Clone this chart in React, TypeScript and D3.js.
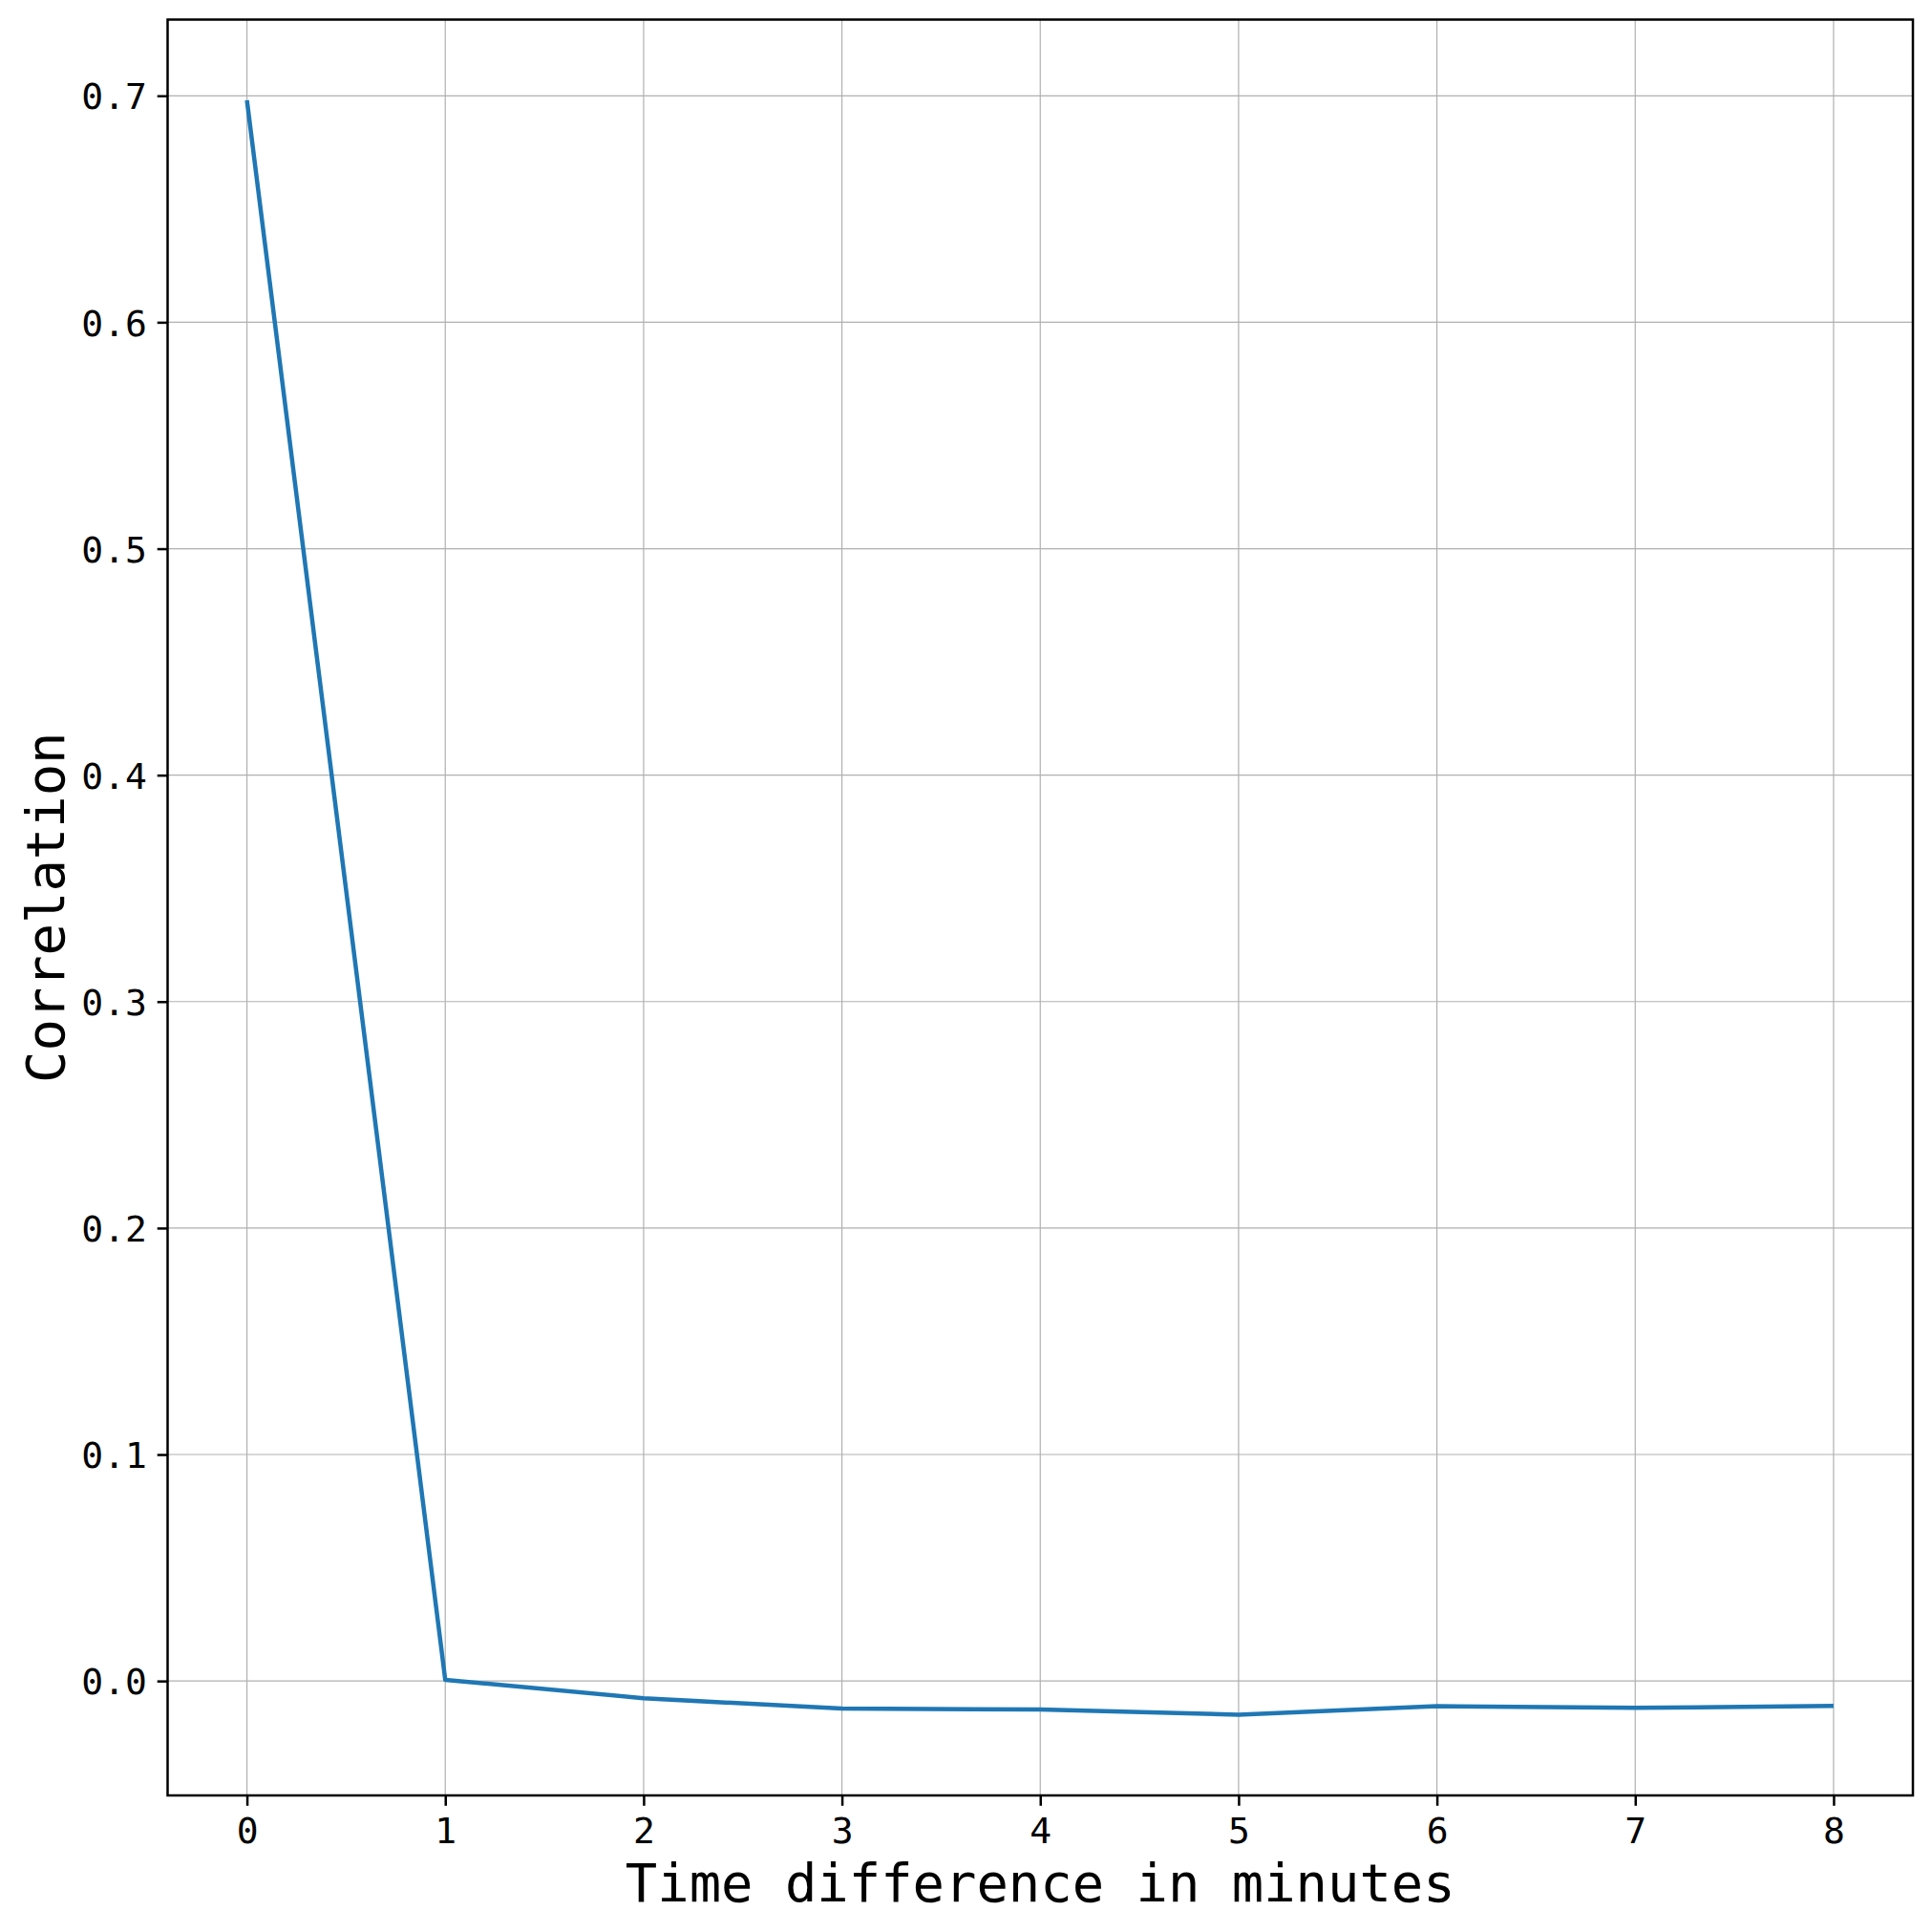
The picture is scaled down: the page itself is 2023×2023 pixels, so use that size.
import React, { useEffect, useRef } from 'react';
import * as d3 from 'd3';

// lag in minutes and the correlation at that lag
const lags = [0, 1, 2, 3, 4, 5, 6, 7, 8];
const correlations = [0.698, 0.0005, -0.0076, -0.0122, -0.0126, -0.0149, -0.0111, -0.0119, -0.011];
const xTicks = [0, 1, 2, 3, 4, 5, 6, 7, 8];
const yTicks = [0.0, 0.1, 0.2, 0.3, 0.4, 0.5, 0.6, 0.7];

const W = 2023;
const H = 2023;
const FONT = "'DejaVu Sans Mono', monospace";

const App = () => {
  const chartRef = useRef(null);

  useEffect(() => {
    document.body.style.margin = '0';

    const svg = d3.select(chartRef.current)
      .attr('width', W)
      .attr('height', H)
      .style('display', 'block')
      .style('background-color', '#ffffff');

    svg.selectAll('*').remove();

    const margin = { top: 20.5, right: 20, bottom: 143, left: 175.5 };
    const left = margin.left;
    const right = W - margin.right;
    const top = margin.top;
    const bottom = H - margin.bottom;

    // matplotlib style 5% padding around the data
    const xMin = d3.min(lags), xMax = d3.max(lags);
    const xPad = (xMax - xMin) * 0.05;
    const yMin = d3.min(correlations), yMax = d3.max(correlations);
    const yPad = (yMax - yMin) * 0.05;

    const x = d3.scaleLinear()
      .domain([xMin - xPad, xMax + xPad])
      .range([left, right]);

    const y = d3.scaleLinear()
      .domain([yMin - yPad, yMax + yPad])
      .range([bottom, top]);

    const tickLen = 10.8;
    const tickPad = 10.8;

    // grid
    const grid = svg.append('g');
    grid.selectAll('line.gx')
      .data(xTicks)
      .enter().append('line')
      .attr('x1', d => x(d)).attr('x2', d => x(d))
      .attr('y1', top).attr('y2', bottom)
      .attr('stroke', '#b0b0b0')
      .attr('stroke-width', 1.2);
    grid.selectAll('line.gy')
      .data(yTicks)
      .enter().append('line')
      .attr('x1', left).attr('x2', right)
      .attr('y1', d => y(d)).attr('y2', d => y(d))
      .attr('stroke', '#b0b0b0')
      .attr('stroke-width', 1.2);

    // data line
    const line = d3.line()
      .x((d, i) => x(lags[i]))
      .y(d => y(d));

    svg.append('path')
      .datum(correlations)
      .attr('d', line)
      .attr('fill', 'none')
      .attr('stroke', '#1f77b4')
      .attr('stroke-width', 4.5)
      .attr('stroke-linejoin', 'round')
      .attr('stroke-linecap', 'butt');

    // x axis
    const xAxis = d3.axisBottom(x)
      .tickValues(xTicks)
      .tickFormat(d3.format('d'))
      .tickSizeInner(tickLen)
      .tickSizeOuter(0)
      .tickPadding(tickPad);

    const gx = svg.append('g')
      .attr('transform', `translate(0,${bottom})`)
      .call(xAxis);
    gx.select('.domain').remove();
    gx.selectAll('line').attr('stroke', '#000').attr('stroke-width', 2.5);
    gx.selectAll('text')
      .attr('dy', null)
      .attr('y', 1930 - bottom)
      .style('font-family', FONT)
      .style('font-size', '38px')
      .style('fill', '#000');

    // y axis
    const yAxis = d3.axisLeft(y)
      .tickValues(yTicks)
      .tickFormat(d3.format('.1f'))
      .tickSizeInner(tickLen)
      .tickSizeOuter(0)
      .tickPadding(tickPad);

    const gy = svg.append('g')
      .attr('transform', `translate(${left},0)`)
      .call(yAxis);
    gy.select('.domain').remove();
    gy.selectAll('line').attr('stroke', '#000').attr('stroke-width', 2.5);
    gy.selectAll('text')
      .attr('dy', '0.36em')
      .style('font-family', FONT)
      .style('font-size', '38px')
      .style('fill', '#000');

    // frame
    svg.append('rect')
      .attr('x', left)
      .attr('y', top)
      .attr('width', right - left)
      .attr('height', bottom - top)
      .attr('fill', 'none')
      .attr('stroke', '#000')
      .attr('stroke-width', 2.5);

    // X axis label
    svg.append('text')
      .attr('text-anchor', 'middle')
      .attr('x', (left + right) / 2)
      .attr('y', 1991)
      .text('Time difference in minutes')
      .style('font-family', FONT)
      .style('font-size', '55.5px')
      .style('fill', '#000');

    // Y axis label
    svg.append('text')
      .attr('text-anchor', 'middle')
      .attr('transform', `translate(67,${(top + bottom) / 2}) rotate(-90)`)
      .text('Correlation')
      .style('font-family', FONT)
      .style('font-size', '55.5px')
      .style('fill', '#000');
  }, []);

  return (
    <svg ref={chartRef}></svg>
  );
};

export default App;
